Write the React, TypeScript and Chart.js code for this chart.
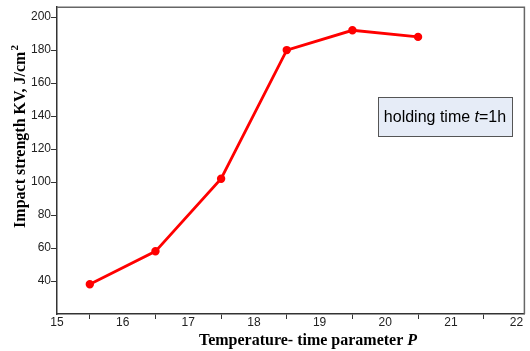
import React, { useEffect, useRef } from "react";
import { Chart, registerables } from "chart.js";

Chart.register(...registerables);

const pValues = [15.5, 16.5, 17.5, 18.5, 19.5, 20.5];
const impact = [38, 58, 102, 180, 192, 188];
const xTickValues = [15, 15.5, 16, 16.5, 17, 17.5, 18, 18.5, 19, 19.5, 20, 20.5, 21, 21.5, 22];
const yTickValues = [40, 60, 80, 100, 120, 140, 160, 180, 200];
const yTitleMain = "Impact strength KV, J/cm";
const yTitleSup = "2";
const xTitleMain = "Temperature- time parameter ";
const xTitleVar = "P";
const noteMain = "holding time ";
const noteVar = "t";
const noteRest = "=1h";

const SERIF = "'Liberation Serif', 'Times New Roman', serif";
const SANS = "'Liberation Sans', Arial, sans-serif";

const decorPlugin = {
  id: "decor",
  afterDraw(chart: any) {
    const { ctx, chartArea } = chart;
    const { left, right, top, bottom } = chartArea;
    ctx.save();
    // frame top & right
    ctx.strokeStyle = "#666";
    ctx.lineWidth = 1.5;
    ctx.beginPath();
    ctx.moveTo(left, top);
    ctx.lineTo(right, top);
    ctx.lineTo(right, bottom);
    ctx.stroke();

    // y title with superscript
    ctx.fillStyle = "#000";
    ctx.textBaseline = "middle";
    ctx.textAlign = "left";
    ctx.font = `bold 16px ${SERIF}`;
    const ym = ctx.measureText(yTitleMain).width;
    ctx.font = `bold 11px ${SERIF}`;
    const ys = ctx.measureText(yTitleSup).width;
    ctx.save();
    ctx.translate(21, 137);
    ctx.rotate(-Math.PI / 2);
    const y0 = -(ym + ys) / 2;
    ctx.font = `bold 16px ${SERIF}`;
    ctx.fillText(yTitleMain, y0, 0);
    ctx.font = `bold 11px ${SERIF}`;
    ctx.fillText(yTitleSup, y0 + ym + 1, -6);
    ctx.restore();

    // x title
    ctx.font = `bold 16px ${SERIF}`;
    const w1 = ctx.measureText(xTitleMain).width;
    ctx.font = `bold italic 16px ${SERIF}`;
    const w2 = ctx.measureText(xTitleVar).width;
    const sx = 308 - (w1 + w2) / 2;
    ctx.font = `bold 16px ${SERIF}`;
    ctx.fillText(xTitleMain, sx, 341);
    ctx.font = `bold italic 16px ${SERIF}`;
    ctx.fillText(xTitleVar, sx + w1, 341);

    // note box
    const bx = 378, by = 97, bw = 134, bh = 39;
    ctx.fillStyle = "#E6ECF7";
    ctx.fillRect(bx, by, bw, bh);
    ctx.strokeStyle = "#555";
    ctx.lineWidth = 1;
    ctx.strokeRect(bx + 0.5, by + 0.5, bw, bh);
    ctx.fillStyle = "#000";
    const nf = `16px ${SANS}`;
    const nfi = `italic 16px ${SANS}`;
    ctx.font = nf;
    const a = ctx.measureText(noteMain).width;
    const c = ctx.measureText(noteRest).width;
    ctx.font = nfi;
    const b = ctx.measureText(noteVar).width;
    const tx = bx + bw / 2 - (a + b + c) / 2;
    const ty = by + bh / 2 + 1;
    ctx.font = nf;
    ctx.fillText(noteMain, tx, ty);
    ctx.font = nfi;
    ctx.fillText(noteVar, tx + a, ty);
    ctx.font = nf;
    ctx.fillText(noteRest, tx + a + b, ty);
    ctx.restore();
  },
};

export default function App() {
  const ref = useRef<HTMLCanvasElement>(null);
  useEffect(() => {
    document.body.style.margin = "0";
    const chart = new Chart(ref.current!, {
      type: "line",
      data: {
        datasets: [
          {
            data: pValues.map((x, i) => ({ x, y: impact[i] })),
            borderColor: "#FF0000",
            backgroundColor: "#FF0000",
            borderWidth: 2.8,
            pointRadius: 2.8,
            pointHoverRadius: 2.8,
            tension: 0,
          },
        ],
      },
      options: {
        animation: false,
        responsive: false,
        layout: { padding: { top: 6, right: 3, left: 0, bottom: 0 } },
        plugins: { legend: { display: false }, tooltip: { enabled: false } },
        scales: {
          x: {
            type: "linear",
            min: 15,
            max: 22.12,
            afterBuildTicks: (s: any) => {
              s.ticks = xTickValues.map((v) => ({ value: v }));
            },
            afterFit: (s: any) => {
              s.height = 37;
            },
            ticks: {
              autoSkip: false,
              maxRotation: 0,
              padding: -4,
              color: "#222",
              font: { family: SANS, size: 12 },
              callback: (v: any) => (Number.isInteger(v) ? String(v) : ""),
            },
            grid: {
              drawOnChartArea: false,
              drawTicks: true,
              tickLength: 5,
              tickWidth: 1,
              tickColor: (c: any) =>
                Number.isInteger(c.tick?.value) ? "rgba(0,0,0,0)" : "#333",
            },
            border: { display: true, color: "#333", width: 1.5 },
          },
          y: {
            type: "linear",
            min: 20,
            max: 206,
            afterBuildTicks: (s: any) => {
              s.ticks = yTickValues.map((v) => ({ value: v }));
            },
            afterFit: (s: any) => {
              s.width = 57;
            },
            ticks: {
              padding: 0,
              color: "#222",
              font: { family: SANS, size: 12 },
            },
            grid: {
              drawOnChartArea: false,
              drawTicks: true,
              tickLength: 6,
              tickColor: "#333",
            },
            border: { display: true, color: "#333", width: 1.5 },
          },
        },
      },
      plugins: [decorPlugin],
    } as any);
    return () => chart.destroy();
  }, []);
  return <canvas ref={ref} width={530} height={351} style={{ display: "block" }} />;
}
